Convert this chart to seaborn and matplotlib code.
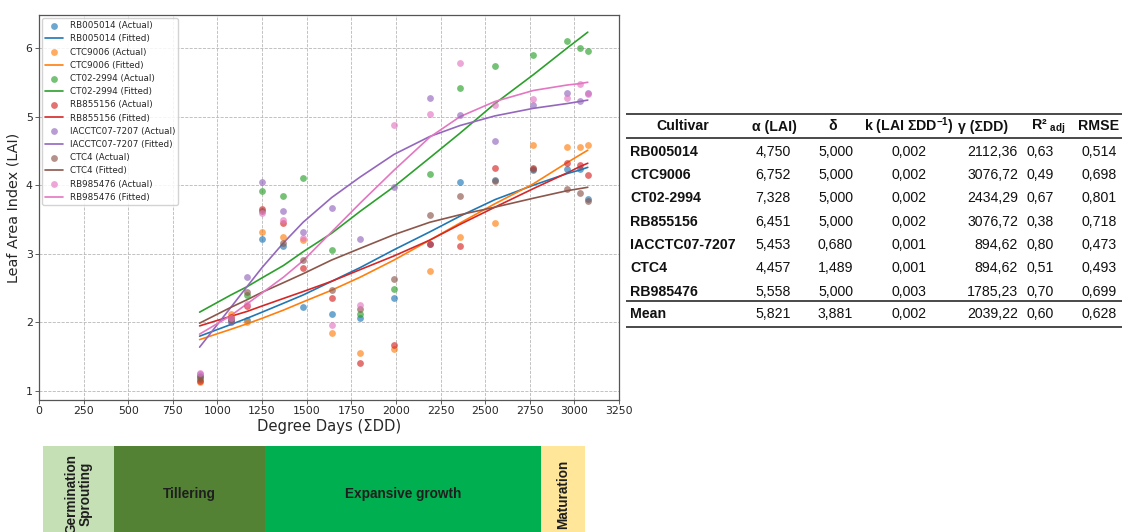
import matplotlib
matplotlib.use("Agg")
import matplotlib.pyplot as plt
import seaborn as sns

# ---------------------------------------------------------------- data
degree_days = [900, 1075, 1165, 1250, 1370, 1480, 1640, 1800,
               1990, 2190, 2360, 2555, 2770, 2960, 3030, 3075]

cultivars = ["RB005014", "CTC9006", "CT02-2994", "RB855156",
             "IACCTC07-7207", "CTC4", "RB985476"]

# measured LAI per cultivar
lai_rb005014 = [1.22, 2.00, 2.03, 3.21, 3.12, 2.23, 2.12, 2.07, 2.35, 3.15, 4.05, 4.08, 4.22, 4.24, 4.24, 3.80]
lai_ctc9006 = [1.13, 2.13, 2.00, 3.32, 3.24, 3.20, 1.84, 1.56, 1.61, 2.75, 3.25, 3.45, 4.58, 4.55, 4.55, 4.58]
lai_ct022994 = [1.18, 2.05, 2.40, 3.92, 3.84, 4.11, 3.06, 2.13, 2.49, 4.16, 5.41, 5.74, 5.90, 6.10, 6.00, 5.95]
lai_rb855156 = [1.15, 2.08, 2.24, 3.65, 3.45, 2.80, 2.35, 1.41, 1.67, 3.14, 3.12, 4.25, 4.25, 4.32, 4.29, 4.15]
lai_iacctc077207 = [1.25, 2.02, 2.66, 4.04, 3.62, 3.32, 3.67, 3.22, 3.98, 5.27, 5.03, 4.65, 5.17, 5.34, 5.23, 5.35]
lai_ctc4 = [1.20, 2.04, 2.45, 3.62, 3.16, 2.91, 2.48, 2.19, 2.64, 3.56, 3.84, 4.06, 4.23, 3.94, 3.88, 3.77]
lai_rb985476 = [1.27, 2.06, 2.27, 3.60, 3.50, 3.23, 1.96, 2.25, 4.87, 5.04, 5.78, 5.17, 5.25, 5.27, 5.48, 5.33]

# fitted LAI per cultivar at the same degree days
fit_rb005014 = [1.80, 1.97, 2.06, 2.15, 2.28, 2.40, 2.60, 2.80, 3.06, 3.32, 3.55, 3.79, 4.00, 4.17, 4.22, 4.26]
fit_ctc9006 = [1.75, 1.90, 1.98, 2.06, 2.18, 2.30, 2.47, 2.66, 2.91, 3.20, 3.45, 3.73, 4.02, 4.33, 4.44, 4.51]
fit_ct022994 = [2.15, 2.40, 2.52, 2.65, 2.83, 3.03, 3.30, 3.62, 3.98, 4.40, 4.76, 5.19, 5.61, 6.00, 6.14, 6.23]
fit_rb855156 = [1.95, 2.09, 2.16, 2.24, 2.35, 2.45, 2.60, 2.77, 2.97, 3.20, 3.43, 3.68, 3.95, 4.18, 4.27, 4.32]
fit_iacctc077207 = [1.64, 2.22, 2.52, 2.80, 3.16, 3.46, 3.82, 4.12, 4.45, 4.71, 4.87, 5.01, 5.12, 5.19, 5.22, 5.24]
fit_ctc4 = [1.99, 2.22, 2.33, 2.44, 2.58, 2.71, 2.91, 3.08, 3.28, 3.46, 3.57, 3.68, 3.81, 3.92, 3.95, 3.97]
fit_rb985476 = [1.83, 2.10, 2.27, 2.43, 2.66, 2.90, 3.32, 3.74, 4.22, 4.70, 5.00, 5.22, 5.38, 5.46, 5.48, 5.50]

measured = [lai_rb005014, lai_ctc9006, lai_ct022994, lai_rb855156,
            lai_iacctc077207, lai_ctc4, lai_rb985476]
fitted = [fit_rb005014, fit_ctc9006, fit_ct022994, fit_rb855156,
          fit_iacctc077207, fit_ctc4, fit_rb985476]

# model parameters table
table_rows = cultivars + ["Mean"]
alpha_lai = [4.750, 6.752, 7.328, 6.451, 5.453, 4.457, 5.558, 5.821]
delta = [5.000, 5.000, 5.000, 5.000, 0.680, 1.489, 5.000, 3.881]
k_rate = [0.002, 0.002, 0.002, 0.002, 0.001, 0.001, 0.003, 0.002]
gamma_dd = [2112.36, 3076.72, 2434.29, 3076.72, 894.62, 894.62, 1785.23, 2039.22]
r2_adj = [0.63, 0.49, 0.67, 0.38, 0.80, 0.51, 0.70, 0.60]
rmse = [0.514, 0.698, 0.801, 0.718, 0.473, 0.493, 0.699, 0.628]

# crop phases along the degree-day axis
phase_labels = ["Germination\nSprouting", "Tillering", "Expansive growth", "Maturation"]
phase_edges = [25, 420, 1265, 2815, 3060]
phase_colors = ["#c5e0b4", "#548235", "#00b050", "#ffe699"]
phase_vertical = [True, False, False, True]

xticks = list(range(0, 3251, 250))
yticks = [1, 2, 3, 4, 5, 6]

# ---------------------------------------------------------------- style
sns.set_style("ticks")
plt.rcParams["font.family"] = ["DejaVu Sans"]
plt.rcParams["mathtext.fontset"] = "custom"
plt.rcParams["mathtext.rm"] = "Liberation Sans"
plt.rcParams["mathtext.bf"] = "Liberation Sans:bold"
plt.rcParams["mathtext.it"] = "Liberation Sans:italic"

palette = sns.color_palette("tab10")

fig = plt.figure(figsize=(11.24, 5.32), dpi=100)
W, H = 1124, 532

def px_axes(left, top, right, bottom):
    return fig.add_axes([left / W, 1 - bottom / H, (right - left) / W, (bottom - top) / H])

# ---------------------------------------------------------------- main chart
ax = px_axes(39, 15, 619, 400)
for i, name in enumerate(cultivars):
    c = palette[i]
    sns.scatterplot(x=degree_days, y=measured[i], color=c, s=24, alpha=0.65,
                    linewidth=0, label=f"{name} (Actual)", ax=ax, zorder=3)
    sns.lineplot(x=degree_days, y=fitted[i], color=c, linewidth=1.2,
                 label=f"{name} (Fitted)", ax=ax, zorder=2)

ax.set_xlim(0, 3250)
ax.set_ylim(0.87, 6.48)
ax.set_xticks(xticks)
ax.set_yticks(yticks)
ax.tick_params(labelsize=7.8, length=2.6, width=0.6, color="#444444", pad=2)
ax.grid(True, linestyle="--", linewidth=0.6, color="#b8b8b8")
for s in ax.spines.values():
    s.set_visible(True)
    s.set_color("#555555")
    s.set_linewidth(0.9)
ax.set_xlabel("Degree Days (ΣDD)", fontsize=10.6, labelpad=2)
ax.set_ylabel("Leaf Area Index (LAI)", fontsize=10.4, labelpad=4)

handles, labels = ax.get_legend_handles_labels()
ax.legend(handles, labels, loc="upper left", fontsize=6.3, frameon=True,
          borderaxespad=0.35, labelspacing=0.48, handlelength=2.0,
          handletextpad=0.8, borderpad=0.35, framealpha=0.85)

# ---------------------------------------------------------------- phase bar
ax_ph = px_axes(39, 446, 619, 542)
ax_ph.set_xlim(0, 3250)
ax_ph.set_ylim(0, 1)
ax_ph.axis("off")
for j, lab in enumerate(phase_labels):
    x0, x1 = phase_edges[j], phase_edges[j + 1]
    ax_ph.barh(0.5, x1 - x0, left=x0, height=1.0, color=phase_colors[j],
               edgecolor="none")
    ax_ph.text((x0 + x1) / 2, 0.5, lab, rotation=90 if phase_vertical[j] else 0,
               ha="center", va="center", multialignment="center",
               fontsize=9.8, fontweight="bold", color="#1e1e1e",
               family="Liberation Sans", linespacing=1.0)

# ---------------------------------------------------------------- table
ax_t = px_axes(0, 0, W, H)
ax_t.set_xlim(0, W)
ax_t.set_ylim(H, 0)
ax_t.axis("off")

tfont = dict(family="Liberation Sans", fontsize=10.2, color="#111111")
header_y = 126.5
row_y = [151.5, 175, 198.5, 222, 245, 268.5, 292, 314.5]

headers = [
    (683, "center", "Cultivar"),
    (774, "center", "α (LAI)"),
    (833, "center", "δ"),
    (909, "center", r"k (LAI ΣDD$^{\mathbf{-1}}$)"),
    (983, "center", "γ (ΣDD)"),
    (1031, "left", r"R² $_{\mathbf{adj}}$"),
    (1099, "center", "RMSE"),
]
for x, ha, txt in headers:
    ax_t.text(x, header_y, txt, ha=ha, va="center", fontweight="bold", **tfont)

def fmt(v, nd):
    return f"{v:.{nd}f}".replace(".", ",")

for r, name in enumerate(table_rows):
    y = row_y[r]
    ax_t.text(630, y, name, ha="left", va="center", fontweight="bold", **tfont)
    ax_t.text(791, y, fmt(alpha_lai[r], 3), ha="right", va="center", **tfont)
    ax_t.text(853, y, fmt(delta[r], 3), ha="right", va="center", **tfont)
    ax_t.text(909, y, fmt(k_rate[r], 3), ha="center", va="center", **tfont)
    ax_t.text(1018, y, fmt(gamma_dd[r], 2), ha="right", va="center", **tfont)
    ax_t.text(1040, y, fmt(r2_adj[r], 2), ha="center", va="center", **tfont)
    ax_t.text(1099, y, fmt(rmse[r], 3), ha="center", va="center", **tfont)

ax_t.hlines([114, 137.5, 301, 327], 626, 1122, colors="#3a3a3a", linewidth=1.3)

fig.savefig("out.png", dpi=100)
